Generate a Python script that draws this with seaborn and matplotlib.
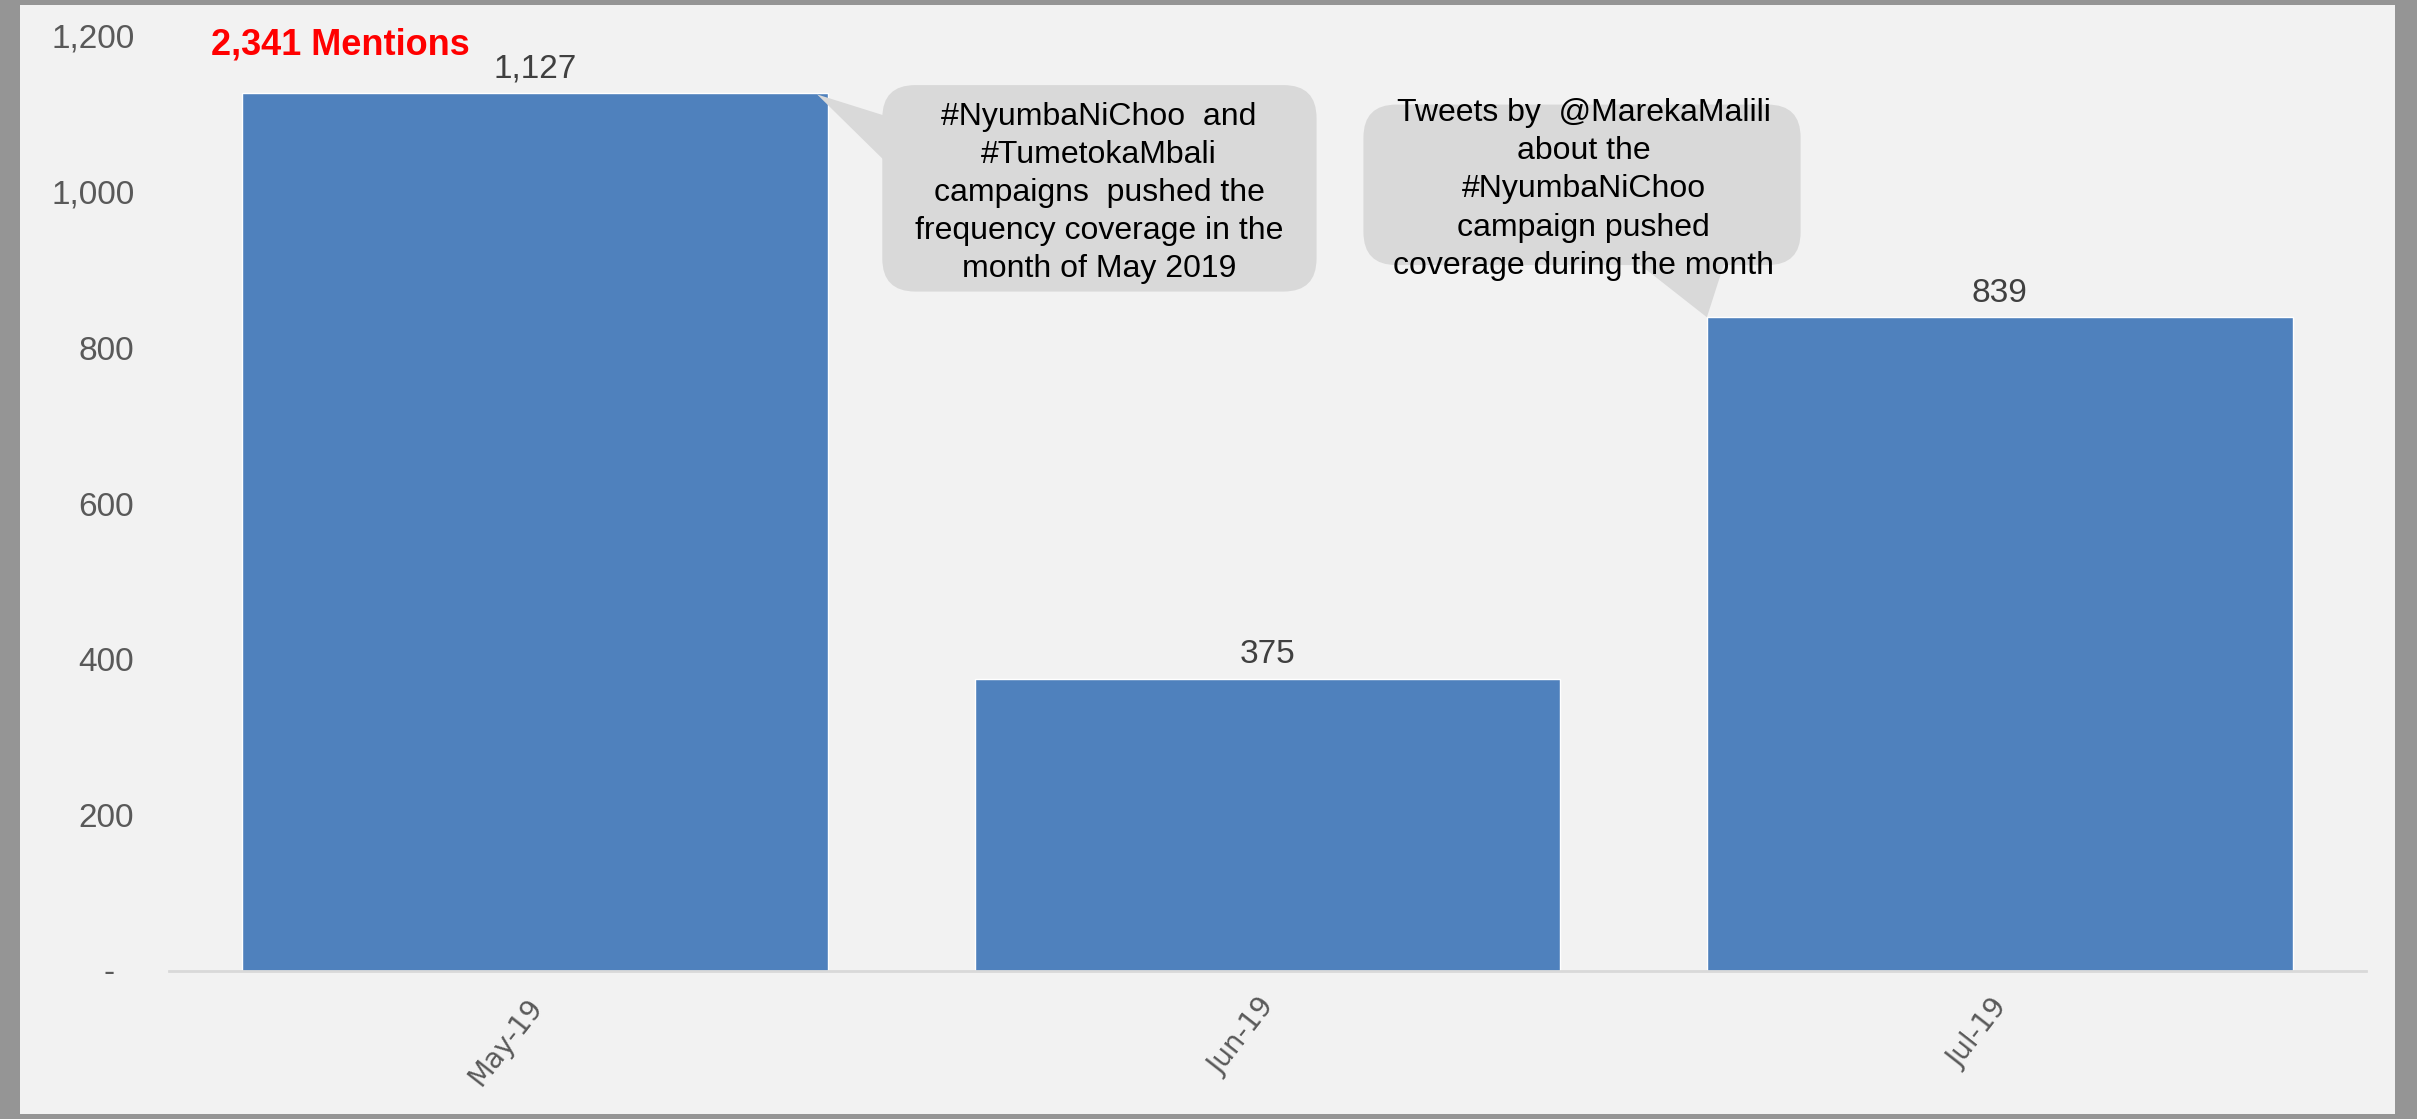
import matplotlib
matplotlib.use("Agg")
import numpy as np
import pandas as pd
import matplotlib.pyplot as plt
import seaborn as sns
from matplotlib.patches import FancyBboxPatch, Polygon, Rectangle
from matplotlib.transforms import ScaledTranslation
from matplotlib import font_manager

# ---------------- data ----------------
months = ["May-19", "Jun-19", "Jul-19"]
mentions = [1127, 375, 839]
yticks = [0, 200, 400, 600, 800, 1000, 1200]
total_label = "2,341 Mentions"
note1 = ("#NyumbaNiChoo  and\n#TumetokaMbali\ncampaigns  pushed the\n"
         "frequency coverage in the\nmonth of May 2019")
note2 = ("Tweets by  @MarekaMalili\nabout the\n#NyumbaNiChoo\n"
         "campaign pushed\ncoverage during the month")

# ---------------- style ----------------
sns.set_style("white")
names = {f.name for f in font_manager.fontManager.ttflist}
narrow = "Liberation Sans Narrow" if "Liberation Sans Narrow" in names else "Liberation Sans"
plt.rcParams["font.family"] = [narrow, "DejaVu Sans"]

W, H = 2417, 1119
fig = plt.figure(figsize=(W / 100, H / 100), dpi=100, facecolor="#959595")
fig.patches.append(Rectangle((20 / W, 1 - 1114 / H), (2395 - 20) / W, (1114 - 5) / H,
                             transform=fig.transFigure, facecolor="#f2f2f2",
                             edgecolor="none", zorder=-10))

ax = fig.add_axes([169 / W, 1 - 971 / H, (2366 - 169) / W, (971 - 36) / H])
ax.set_facecolor("none")

df = pd.DataFrame({"month": months, "mentions": mentions})
sns.barplot(data=df, x="month", y="mentions", color="#4f81bd", saturation=1,
            width=0.8, ax=ax, zorder=2)
ax.set_xlim(-0.5, 2.5)
ax.set_ylim(0, 1200)
for s in ["top", "right", "left"]:
    ax.spines[s].set_visible(False)
ax.spines["bottom"].set_color("#d9d9d9")
ax.spines["bottom"].set_linewidth(2)
ax.set_xlabel("")
ax.set_ylabel("")

ax.set_yticks(yticks)
ax.set_yticklabels([f"{v:,}" if v else "" for v in yticks])
ax.tick_params(axis="y", length=0, pad=25, labelsize=24, labelcolor="#595959")
ax.annotate("-", xy=(0, 0), xycoords=ax.get_yaxis_transform(), xytext=(-60, -3),
            textcoords="offset pixels", ha="center", va="center", fontsize=24,
            color="#595959")

ax.set_xticks(range(len(months)))
ax.set_xticklabels(months, rotation=52, ha="right", rotation_mode="anchor",
                   fontfamily="DejaVu Sans", fontsize=20, color="#595959")
ax.tick_params(axis="x", length=0, pad=16)
for lbl in ax.get_xticklabels():
    lbl.set_transform(lbl.get_transform()
                      + ScaledTranslation(-9 / 100, 0, fig.dpi_scale_trans))

ax.bar_label(ax.containers[0], labels=[f"{v:,}" for v in mentions], padding=6,
             fontsize=24, color="#404040")

ax.text((211 - 169) / (2366 - 169), (971 - 45) / (971 - 36), total_label,
        transform=ax.transAxes, ha="left", va="center", fontsize=26,
        fontweight="bold", color="#ff0000")

# ---------------- callouts ----------------
p0 = ax.transData.transform((0, 0))
p1 = ax.transData.transform((1, 1))
sx, sy = p1[0] - p0[0], p1[1] - p0[1]
call_col = "#d9d9d9"


def callout(x0, y0, x1, y1, tail, text, tx, ty):
    box = FancyBboxPatch((x0, y0), x1 - x0, y1 - y0,
                         boxstyle=f"round,pad=0,rounding_size={33 / sx}",
                         mutation_aspect=sx / sy, fc=call_col, ec="none",
                         zorder=3, clip_on=False)
    ax.add_patch(box)
    ax.add_patch(Polygon(tail, closed=True, fc=call_col, ec="none", zorder=3,
                         clip_on=False))
    ax.text(tx, ty, text, ha="center", va="center", multialignment="center",
            fontsize=23, linespacing=1.35, color="black", zorder=4)


callout(0.474, 872, 1.067, 1137,
        [(0.49, 1094), (0.49, 1028), (0.385, 1125)], note1, 0.770, 998)
callout(1.131, 906, 1.728, 1112,
        [(1.497, 915), (1.626, 915), (1.6, 839)], note2, 1.432, 1003)

fig.savefig("out.png", dpi=100, facecolor=fig.get_facecolor())
